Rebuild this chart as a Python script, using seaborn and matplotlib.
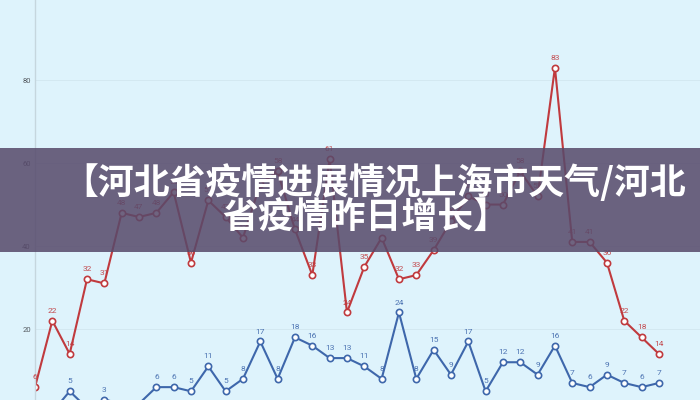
import matplotlib
matplotlib.use("Agg")
import matplotlib.pyplot as plt
from matplotlib.patches import Rectangle
import pandas as pd
import seaborn as sns

# values
days = list(range(37))
red_vals = [6, 22, 14, 32, 31, 48, 47, 48, 53, 36, 51, 47, 42, 55, 58, 44, 33, 61, 24,
            35, 42, 32, 33, 39, 46, 52, 50, 50, 58, 52, 83, 41, 41, 36, 22, 18, 14]
blue_vals = [1, 0, 5, 1, 3, 2, 2, 6, 6, 5, 11, 5, 8, 17, 8, 18, 16, 13, 13,
             11, 8, 24, 8, 15, 9, 17, 5, 12, 12, 9, 16, 7, 6, 9, 7, 6, 7]
y_ticks = [20, 40, 60, 80]
title_lines = ["【河北省疫情进展情况上海市天气/河北", "省疫情昨日增长】"]

bg = "#def3fc"
red = "#c03a3e"
blue = "#3e67ab"

sns.set_style("white")
plt.rcParams["font.family"] = ["Roboto", "DejaVu Sans"]

df = pd.DataFrame({"day": days * 2,
                   "value": red_vals + blue_vals,
                   "series": ["red"] * len(days) + ["blue"] * len(days)})

fig = plt.figure(figsize=(7, 4), dpi=100)
fig.patch.set_facecolor(bg)
ax = fig.add_axes([35 / 700, 0, 665 / 700, 1])
ax.set_facecolor(bg)

sns.lineplot(data=df, x="day", y="value", hue="series",
             palette={"red": red, "blue": blue}, marker="o",
             markerfacecolor="white", markeredgewidth=1.2, markersize=4.5,
             linewidth=1.5, legend=False, ax=ax)
# marker edges follow line colours
for line in ax.get_lines():
    line.set_markeredgecolor(line.get_color())

for vals, col in [(red_vals, red), (blue_vals, blue)]:
    for d, v in zip(days, vals):
        ax.annotate(str(v), (d, v), xytext=(0, 5), textcoords="offset points",
                    ha="center", va="bottom", fontsize=6, color=col, alpha=0.9)

ax.set_xlim(0, 38.37)
ax.set_ylim(2.9, 99.3)
ax.set_yticks(y_ticks)
ax.set_yticklabels([str(t) for t in y_ticks], fontsize=5.5, color="#555a60")
ax.tick_params(axis="y", length=0, pad=3)
ax.set_xticks([])
ax.set_xlabel("")
ax.set_ylabel("")
ax.grid(axis="y", color="#d2e6ef", linewidth=0.6)
for s in ["top", "right", "bottom"]:
    ax.spines[s].set_visible(False)
ax.spines["left"].set_color("#c5d6de")
ax.spines["left"].set_linewidth(1)

# title banner over the chart
fig.add_artist(Rectangle((0, 0.37), 1, 0.26, transform=fig.transFigure,
                         facecolor="#574a6b", alpha=0.86, edgecolor="none", zorder=5))
fig.text(0.535, 0.543, title_lines[0], ha="center", va="center", color="white",
         fontsize=25.8, fontweight="bold", zorder=6,
         family=["Noto Sans CJK SC", "DejaVu Sans"])
fig.text(0.522, 0.455, title_lines[1], ha="center", va="center", color="white",
         fontsize=25.8, fontweight="bold", zorder=6,
         family=["Noto Sans CJK SC", "DejaVu Sans"])

fig.savefig("out.png", dpi=100, facecolor=bg)
plt.close(fig)
